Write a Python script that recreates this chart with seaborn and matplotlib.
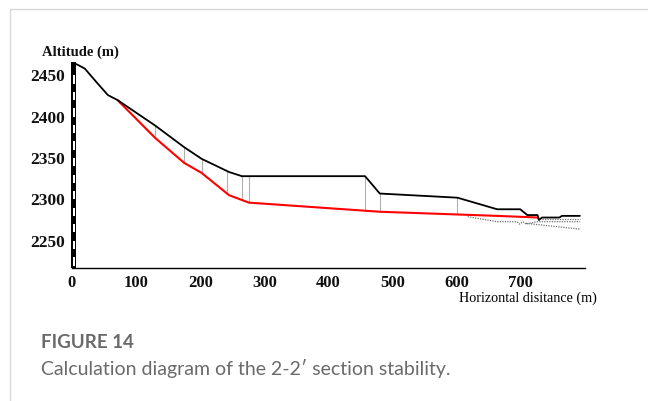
import numpy as np
import pandas as pd
import matplotlib
matplotlib.use("Agg")
import matplotlib.pyplot as plt
import matplotlib.transforms as mtransforms
from matplotlib.patches import Rectangle
from matplotlib.lines import Line2D
import seaborn as sns

# Ground surface profile (horizontal distance m, altitude m)
ground_x = [0, 8, 20, 40, 56, 71, 130, 175, 202, 245, 265, 457, 480, 601, 663,
            699, 710, 726, 728, 733, 760, 764, 792]
ground_y = [2465, 2463, 2458, 2440, 2426, 2420, 2389, 2363, 2349, 2333, 2328,
            2328, 2307, 2302, 2288, 2288, 2281, 2281, 2275, 2278, 2278, 2280, 2280]

# Critical slip surface
slip_x = [71, 130, 175, 202, 245, 276, 480, 663, 727]
slip_y = [2420, 2374, 2344, 2332, 2305, 2296, 2285, 2280, 2278]

# Slice boundaries
slice_x = [130, 175, 202, 242, 265, 276, 457, 480, 601]

# Stratum boundaries near the toe (dotted)
layer1_x = [617, 663, 694, 698, 703, 708, 725, 792]
layer1_y = [2279, 2273, 2273, 2270, 2273, 2270, 2273, 2273]
layer2_x = [733, 792]
layer2_y = [2276, 2276]
layer3_x = [708, 792]
layer3_y = [2271, 2264]

x_ticks = [0, 100, 200, 300, 400, 500, 600, 700]
y_ticks = [2250, 2300, 2350, 2400, 2450]

sns.set_style("white")
plt.rcParams["font.family"] = ["Liberation Serif", "DejaVu Serif"]

fig = plt.figure(figsize=(6.48, 4.01), dpi=100)
ax = fig.add_axes([72 / 648, 1 - 268 / 401, 513 / 648, 206 / 401])

ground = pd.DataFrame({"x": ground_x, "y": ground_y})
slip = pd.DataFrame({"x": slip_x, "y": slip_y})

# slices between ground and slip surface
for sx in slice_x:
    top = np.interp(sx, ground_x, ground_y)
    bot = np.interp(sx, slip_x, slip_y)
    ax.plot([sx, sx], [bot, top], color="#b0b0b0", lw=0.8, zorder=1)

for lx, ly in [(layer1_x, layer1_y), (layer2_x, layer2_y), (layer3_x, layer3_y)]:
    ax.plot(lx, ly, color="#707070", lw=0.9, ls=(0, (1, 1)), zorder=1)

sns.lineplot(data=slip, x="x", y="y", ax=ax, color="#ff0000", lw=1.5,
             sort=False, estimator=None, zorder=2)
sns.lineplot(data=ground, x="x", y="y", ax=ax, color="black", lw=1.3,
             sort=False, estimator=None, zorder=3)

ax.set_xlim(0, 800)
ax.set_ylim(2217, 2466)
ax.set_xticks(x_ticks)
ax.set_yticks(y_ticks)
ax.set_xlabel("")
ax.set_ylabel("")

for s in ["top", "right", "left"]:
    ax.spines[s].set_visible(False)
ax.spines["bottom"].set_linewidth(1.0)
ax.spines["bottom"].set_color("black")

ax.tick_params(axis="x", direction="out", length=3, width=0.8, color="black",
               labelsize=12, pad=2, labelcolor="#111111")
ax.tick_params(axis="y", length=0, labelsize=12.5, pad=5, labelcolor="#111111")
for lab in ax.get_xticklabels() + ax.get_yticklabels():
    lab.set_fontweight("bold")

# altitude scale bar along the vertical axis
trans = mtransforms.blended_transform_factory(ax.transAxes, ax.transData)
bar_w = 5 / 513
ax.add_patch(Rectangle((-0.0015, 2217), bar_w, 2466 - 2217, transform=trans,
                       facecolor="black", edgecolor="none", clip_on=False, zorder=4))
for yb in range(2220, 2460, 20):
    ax.add_patch(Rectangle((-0.0015 + 2 / 513, yb), 2 / 513, 10, transform=trans,
                           facecolor="white", edgecolor="none", clip_on=False, zorder=5))

fig.text(42 / 648, 1 - 52 / 401, "Altitude (m)", fontsize=10.5, fontweight="bold",
         ha="left", va="center", color="#111111")
fig.text(597 / 648, 1 - 298 / 401, "Horizontal disitance (m)", fontsize=10.2,
         ha="right", va="center", color="#000000")

# caption block
fig.text(41 / 648, 1 - 343 / 401, "FIGURE 14", fontsize=13.5, fontweight="bold",
         family=["Lato", "DejaVu Sans"], color="#6a6a6a", ha="left", va="center")
fig.text(41 / 648, 1 - 368 / 401, "Calculation diagram of the 2-2\u2032 section stability.",
         fontsize=14, family=["Lato", "DejaVu Sans"], color="#6a6a6a",
         ha="left", va="center")

# panel frame
fig.add_artist(Line2D([9.5 / 648, 9.5 / 648], [0, 1 - 9 / 401], color="#d8d8d8", lw=1))
fig.add_artist(Line2D([9.5 / 648, 1], [1 - 9 / 401, 1 - 9 / 401], color="#d8d8d8", lw=1))

fig.savefig("out.png", dpi=100)
